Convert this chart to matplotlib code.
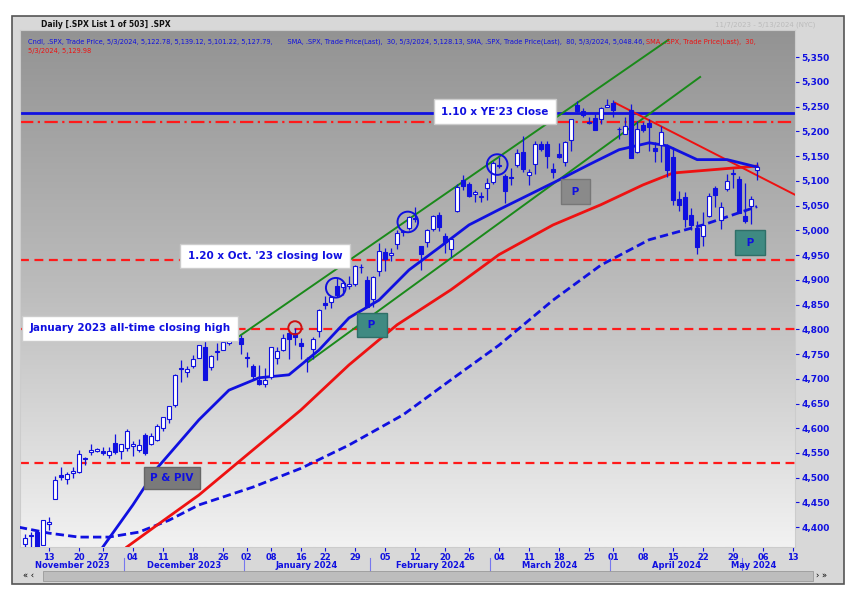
import numpy as np
import pandas as pd
import matplotlib
matplotlib.use("Agg")
import matplotlib.pyplot as plt
from matplotlib.patches import Rectangle

# daily OHLC, .SPX, 11/7/2023 - 5/3/2024
opens = [4366, 4384, 4391, 4365, 4406, 4458, 4505, 4497, 4510, 4512, 4539, 4553, 4555, 4554, 4546, 4571, 4554,
         4560, 4564, 4557, 4586, 4569, 4577, 4601, 4618, 4646, 4722, 4714, 4726, 4743, 4764, 4724, 4754, 4758, 4773, 4787, 4782,
         4745, 4726, 4698, 4690, 4703, 4741, 4759, 4793, 4792, 4772, 4740, 4760, 4796, 4853, 4856, 4888, 4886, 4888, 4892, 4925, 4899,
         4862, 4917, 4957, 4950, 4973, 4996, 5005, 5026, 4968, 4976, 5003, 5031, 4989, 4963, 5039, 5101, 5094, 5074, 5068, 5086,
         5098, 5131, 5110, 5108, 5133, 5159, 5111, 5134, 5174, 5175, 5124, 5154, 5139, 5182, 5253, 5242, 5219, 5228, 5226, 5249,
         5258, 5204, 5195, 5244, 5158, 5212, 5217, 5167, 5172, 5171, 5149, 5064, 5068, 5031, 5005, 4988, 5029, 5085, 5020, 5084, 5114, 5104,
         5030, 5050, 5122]
highs = [4386, 4391, 4393, 4415, 4421, 4503, 4521, 4511, 4521, 4557, 4542, 4568, 4560, 4562, 4562, 4588, 4569,
         4599, 4575, 4579, 4590, 4590, 4609, 4623, 4644, 4709, 4738, 4726, 4749, 4768, 4779, 4749, 4772, 4784, 4785, 4793, 4789,
         4755, 4729, 4727, 4721, 4764, 4765, 4791, 4799, 4803, 4782, 4744, 4785, 4842, 4868, 4866, 4903, 4898, 4907, 4929, 4932, 4907,
         4907, 4975, 4964, 4964, 5000, 5001, 5030, 5048, 4969, 5002, 5032, 5038, 4994, 4983, 5094, 5111, 5097, 5081, 5077, 5105,
         5140, 5149, 5114, 5127, 5165, 5190, 5125, 5180, 5180, 5180, 5136, 5176, 5180, 5225, 5261, 5247, 5229, 5235, 5249, 5265,
         5264, 5208, 5229, 5256, 5222, 5219, 5225, 5178, 5211, 5175, 5168, 5079, 5077, 5046, 5019, 5038, 5076, 5089, 5057, 5114, 5124, 5110,
         5096, 5069, 5139]
lows = [4355, 4359, 4343, 4363, 4394, 4458, 4495, 4487, 4500, 4510, 4525, 4545, 4552, 4546, 4540, 4547, 4537,
        4554, 4544, 4551, 4546, 4566, 4575, 4594, 4610, 4643, 4694, 4704, 4721, 4743, 4698, 4718, 4737, 4758, 4768, 4780, 4751,
        4723, 4700, 4687, 4683, 4700, 4730, 4756, 4740, 4768, 4740, 4714, 4740, 4785, 4842, 4844, 4865, 4870, 4881, 4887, 4914, 4845,
        4845, 4907, 4918, 4938, 4962, 4988, 5000, 5016, 4920, 4966, 4999, 4999, 4955, 4946, 5038, 5081, 5068, 5057, 5058, 5062,
        5094, 5127, 5056, 5092, 5129, 5117, 5092, 5114, 5160, 5127, 5105, 5147, 5131, 5161, 5240, 5229, 5216, 5203, 5214, 5249,
        5229, 5184, 5194, 5146, 5157, 5198, 5161, 5138, 5139, 5108, 5052, 5039, 5007, 5001, 4953, 4969, 5027, 5047, 5002, 5079, 5085, 5036,
        5014, 5012, 5101]
closes = [4378, 4383, 4347, 4415, 4411, 4496, 4502, 4508, 4514, 4547, 4538, 4556, 4559, 4550, 4555, 4551, 4568,
          4595, 4569, 4567, 4549, 4585, 4604, 4622, 4644, 4707, 4720, 4719, 4740, 4768, 4698, 4746, 4755, 4775, 4781, 4783, 4770,
          4743, 4705, 4689, 4697, 4764, 4757, 4783, 4780, 4784, 4766, 4739, 4780, 4840, 4850, 4865, 4869, 4894, 4891, 4928, 4925, 4846,
          4906, 4959, 4943, 4954, 4995, 4998, 5027, 5022, 4953, 5001, 5030, 5006, 4976, 4982, 5087, 5089, 5070, 5078, 5070, 5096,
          5137, 5131, 5079, 5105, 5157, 5124, 5117, 5175, 5165, 5150, 5117, 5149, 5179, 5225, 5241, 5234, 5218, 5203, 5248, 5254,
          5243, 5205, 5211, 5147, 5204, 5202, 5209, 5161, 5199, 5123, 5061, 5051, 5022, 5011, 4967, 5011, 5070, 5072, 5048, 5100, 5116, 5036,
          5018, 5064, 5128]

# moving averages (trading-day index, value)
sma20_idx = [13, 18, 22, 29, 34, 39, 44, 49, 54, 59, 64, 69, 74, 79, 84, 89, 94, 99, 104, 107, 112, 117, 122]
sma20_val = [4360, 4445, 4519, 4617, 4677, 4702, 4708, 4758, 4823, 4859, 4920, 4965, 5011, 5042, 5072, 5102, 5133, 5163, 5177, 5171, 5143, 5143, 5128]
sma50_idx = [17, 22, 29, 37, 46, 54, 62, 71, 79, 88, 96, 103, 108, 117, 122]
sma50_val = [4360, 4404, 4465, 4546, 4637, 4728, 4809, 4880, 4951, 5011, 5052, 5092, 5116, 5125, 5130]
sma100_idx = [-1, 4, 9, 14, 19, 24, 29, 38, 46, 54, 63, 71, 79, 88, 96, 104, 113, 122]
sma100_val = [4400, 4388, 4380, 4380, 4390, 4414, 4445, 4481, 4519, 4566, 4627, 4698, 4768, 4859, 4930, 4981, 5011, 5048]

holidays = ["2023-11-23", "2023-12-25", "2024-01-01", "2024-01-15", "2024-02-19", "2024-03-29"]
dates = pd.bdate_range("2023-11-07", "2024-05-03").drop(pd.to_datetime(holidays))
future = pd.to_datetime(["2024-05-06", "2024-05-07", "2024-05-08", "2024-05-09", "2024-05-10", "2024-05-13"])
all_dates = dates.append(future)
idx_of = {d: i for i, d in enumerate(all_dates)}

tick_days = ["2023-11-13", "2023-11-20", "2023-11-27", "2023-12-04", "2023-12-11", "2023-12-18", "2023-12-26",
             "2024-01-02", "2024-01-08", "2024-01-16", "2024-01-22", "2024-01-29", "2024-02-05", "2024-02-12",
             "2024-02-20", "2024-02-26", "2024-03-04", "2024-03-11", "2024-03-18", "2024-03-25", "2024-04-01",
             "2024-04-08", "2024-04-15", "2024-04-22", "2024-04-29", "2024-05-06", "2024-05-13"]
month_names = ["November 2023", "December 2023", "January 2024", "February 2024", "March 2024", "April 2024", "May 2024"]
month_starts = ["2023-12-01", "2024-01-02", "2024-02-01", "2024-03-01", "2024-04-01", "2024-05-01"]

BLUE = "#1010e0"
fig = plt.figure(figsize=(8.56, 5.93), dpi=100)
fig.patch.set_facecolor("white")
fig.patches.append(Rectangle((0.014, 0.015), 0.972, 0.958, transform=fig.transFigure,
                             facecolor="#d8d8d8", edgecolor="#555555", lw=1.2, zorder=-10))
ax = fig.add_axes([0.0234, 0.0776, 0.9053, 0.8718])
xmin, xmax = -0.8, 128.3
ymin, ymax = 4360, 5405
ax.set_xlim(xmin, xmax)
ax.set_ylim(ymin, ymax)

# gray gradient background
grad = np.linspace(0, 1, 256).reshape(-1, 1)
cmap = matplotlib.colors.LinearSegmentedColormap.from_list("bg", ["#939393", "#bcbcbc", "#f2f2f2"])
ax.imshow(grad, extent=[xmin, xmax, ymin, ymax], aspect="auto", cmap=cmap, origin="upper", zorder=0)

# horizontal reference lines
ax.axhline(5237, color=BLUE, lw=2, zorder=2)
ax.axhline(5220, color="#ff1a1a", lw=1.6, ls=(0, (6, 2, 1, 2)), zorder=2)
for lvl in [4940, 4800, 4530]:
    ax.axhline(lvl, color="#ff1a1a", lw=1.6, ls=(0, (4, 2.5)), zorder=2)

# trend channel and downtrend
ax.plot([35.0, 107.2], [4780, 5385], color="#1a8a1a", lw=1.4, zorder=3)
ax.plot([47.2, 112.5], [4734, 5310], color="#1a8a1a", lw=1.4, zorder=3)
ax.plot([98.3, 128.3], [5258, 5072], color="#ee1111", lw=1.4, zorder=3)

# moving averages
ax.plot(sma100_idx, sma100_val, color=BLUE, lw=2, ls=(0, (3, 1.5)), zorder=3)
ax.plot(sma50_idx, sma50_val, color="#ee1111", lw=2, zorder=3)
ax.plot(sma20_idx, sma20_val, color=BLUE, lw=2, zorder=3)

# candles
for i, (o, h, l, c) in enumerate(zip(opens, highs, lows, closes)):
    ax.vlines(i, l, h, color=BLUE, lw=0.9, zorder=4)
    up = c >= o
    ax.add_patch(Rectangle((i - 0.3, min(o, c)), 0.6, max(abs(c - o), 1.5),
                           facecolor="white" if up else BLUE, edgecolor=BLUE, lw=0.8, zorder=5))

# circles
for cx, cy, s in [(45, 4803, 90), (51.8, 4884, 200), (63.8, 5017, 220), (78.7, 5133, 220)]:
    ax.scatter(cx, cy, s=s, facecolors="none", edgecolors=BLUE if s > 100 else "#cc1111", lw=1.4, zorder=6)

# pattern boxes
box_kw = dict(ha="center", va="center", color=BLUE, fontsize=7.5, fontweight="bold", zorder=7)
ax.text(24.5, 4499, "P & PIV", bbox=dict(boxstyle="square,pad=0.6", fc="#7a7a7a", ec="#666666"), **box_kw)
ax.text(91.7, 5078, " P ", bbox=dict(boxstyle="square,pad=0.7", fc="#8a8a8a", ec="#777777"), **box_kw)
ax.text(57.8, 4809, " P ", bbox=dict(boxstyle="square,pad=0.7", fc="#3f8a82", ec="#2f6f68"), **box_kw)
ax.text(120.8, 4975, " P ", bbox=dict(boxstyle="square,pad=0.7", fc="#3f8a82", ec="#2f6f68"), **box_kw)

# annotations
lab_kw = dict(ha="center", va="center", color=BLUE, fontsize=7.5, fontweight="bold",
              bbox=dict(boxstyle="square,pad=0.7", fc="white", ec="#cccccc"), zorder=8)
ax.text(78.3, 5240, "1.10 x YE'23 Close", **lab_kw)
ax.text(40, 4948, "1.20 x Oct. '23 closing low", **lab_kw)
ax.text(17.5, 4802, "January 2023 all-time closing high", **lab_kw)

# header texts
hdr = ax.text(0.01, 0.978, "Cndl, .SPX, Trade Price, 5/3/2024, 5,122.78, 5,139.12, 5,101.22, 5,127.79,       "
              "SMA, .SPX, Trade Price(Last),  30, 5/3/2024, 5,128.13, SMA, .SPX, Trade Price(Last),  80, 5/3/2024, 5,048.46, ",
              transform=ax.transAxes, fontsize=4.8, color=BLUE, va="center", zorder=9)
ax.annotate("SMA, .SPX, Trade Price(Last),  30,", xy=(1, 0.5), xycoords=hdr, va="center", ha="left",
            fontsize=4.8, color="#ee1111", zorder=9)
ax.text(0.01, 0.96, "5/3/2024, 5,129.98", transform=ax.transAxes, fontsize=4.8, color="#ee1111", va="center", zorder=9)
fig.text(0.048, 0.958, "Daily [.SPX List 1 of 503] .SPX", fontsize=5.5, fontweight="bold", color="#111111", va="center")
fig.text(0.952, 0.958, "11/7/2023 - 5/13/2024 (NYC)", fontsize=5, color="#bbbbbb", va="center", ha="right")

# axes styling
ax.yaxis.tick_right()
ax.set_yticks(np.arange(4400, 5351, 50))
ax.set_yticklabels([f"{v:,}" for v in range(4400, 5351, 50)], fontsize=6.5, color=BLUE, fontweight="bold")
ax.set_xticks([idx_of[pd.Timestamp(d)] for d in tick_days])
ax.set_xticklabels([d[-2:] for d in tick_days], fontsize=6, color=BLUE, fontweight="bold")
ax.tick_params(axis="both", length=3, color=BLUE, pad=1.5)
for s in ax.spines.values():
    s.set_color("#cccccc")

# month labels below date ticks
seps = [idx_of[pd.Timestamp(d)] - 0.5 for d in month_starts]
bounds = [xmin] + seps + [123.5]
for k, name in enumerate(month_names):
    mid = (bounds[k] + bounds[k + 1]) / 2
    ax.text(mid, -0.036, name, transform=ax.get_xaxis_transform(), ha="center", va="center",
            fontsize=6, color=BLUE, fontweight="bold")
for sx in seps:
    ax.plot([sx, sx], [-0.05, -0.022], transform=ax.get_xaxis_transform(), color="#7777ee", lw=0.8, clip_on=False)

# scrollbar
fig.patches.append(Rectangle((0.05, 0.021), 0.9, 0.016, transform=fig.transFigure,
                             facecolor="#bdbdbd", edgecolor="#999999", lw=0.6))
fig.text(0.027, 0.029, "« ‹", fontsize=6, va="center")
fig.text(0.953, 0.029, "› »", fontsize=6, va="center")

fig.savefig("out.png", dpi=100)
